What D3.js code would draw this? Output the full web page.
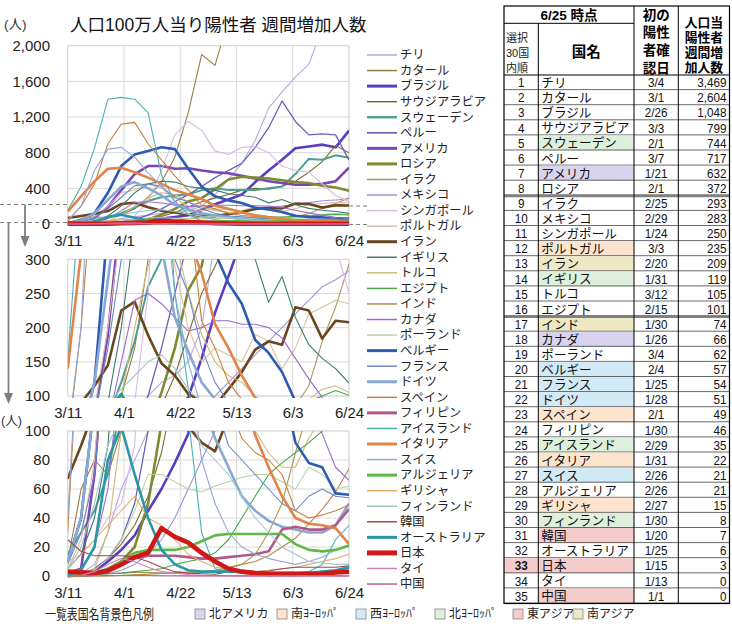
<!DOCTYPE html>
<html><head><meta charset="utf-8">
<script src="https://cdn.jsdelivr.net/npm/d3@7"></script>
<style>
body{margin:0;background:#fff;}
text{font-family:"Liberation Sans","Noto Sans CJK JP",sans-serif;}
</style></head><body><svg id="c" width="732" height="631"></svg>
<script>
// ---------- DATA ----------
const dates = ["3/11","3/16","3/21","3/26","3/31","4/5","4/10","4/15","4/20","4/25","4/30","5/5","5/10","5/15","5/20","5/25","5/30","6/4","6/9","6/14","6/19","6/24"];
const xTickLabels = ["3/11","4/1","4/22","5/13","6/3","6/24"];
const topTicks = [0,400,800,1200,1600,2000];
const midTicks = [100,150,200,250,300];
const lowTicks = [0,20,40,60,80,100];

const names = ["チリ","カタール","ブラジル","サウジアラビア","スウェーデン","ペルー","アメリカ","ロシア","イラク","メキシコ","シンガポール","ポルトガル","イラン","イギリス","トルコ","エジプト","インド","カナダ","ポーランド","ベルギー","フランス","ドイツ","スペイン","フィリピン","アイスランド","イタリア","スイス","アルジェリア","ギリシャ","フィンランド","韓国","オーストラリア","日本","タイ","中国"];

const chile      = [0,2,8,30,60,80,100,120,130,150,200,330,500,680,940,1300,1480,1650,1790,2200,2900,3469];
const qatar      = [10,60,80,70,100,170,300,470,750,1250,1900,1780,2300,2900,3400,3700,3600,3400,3200,3000,2800,2604];
const brazil     = [0,0.5,3,10,18,28,45,60,78,98,155,222,275,330,470,600,720,850,870,890,860,1048];
const saudi      = [0,1,5,12,22,35,55,85,130,190,250,290,330,380,400,390,420,480,580,700,880,799];
const sweden     = [15,30,45,70,120,180,260,300,320,330,380,400,380,380,380,400,420,560,730,720,770,744];
const peru       = [0,1,5,12,25,50,100,170,250,330,420,520,600,680,860,1080,1380,1150,1000,1010,1000,717];
const usa        = [2,5,70,190,380,560,650,650,620,625,600,580,570,540,510,480,460,440,440,450,480,632];
const russia     = [0,0.5,2,5,10,20,50,105,170,255,290,390,500,530,520,510,490,470,460,430,410,372];
const iraq       = [0,0.5,1,1.5,2,2.5,2.5,2,2,2,2.5,3,5,8,15,30,50,85,115,180,230,293];
const mexico     = [0,0,0.5,1.5,4,8,15,25,40,60,80,100,120,140,160,180,200,220,240,260,270,283];
const singapore  = [10,15,25,40,50,90,250,600,1000,1150,1050,820,780,860,870,800,650,600,580,450,320,250];
const portugal   = [5,25,80,200,350,380,450,400,290,200,150,170,160,150,190,180,140,170,220,230,240,235];
const iran       = [67,90,115,145,225,238,189,148,130,103,92,86,110,135,168,180,175,230,225,184,210,208];
const uk         = [5,15,40,90,200,350,450,480,470,420,400,380,340,320,300,237,275,215,175,155,140,119];
const turkey     = [0,0.5,5,30,100,200,290,350,330,250,190,150,130,120,100,85,75,75,95,110,115,105];
const egypt      = [0,0.3,1,1.5,2,3,4,5,8,10,12,16,25,40,55,70,78,85,92,100,108,101];
const india      = [0,0,0,0.1,0.3,0.8,1.3,1.8,2.3,2.8,3,4,6,8,10,14,20,26,36,46,58,74];
const canada     = [1,5,20,60,150,240,250,235,215,195,200,210,210,205,205,200,185,155,125,98,75,66];
const poland     = [0,1,4,12,25,45,70,70,65,60,58,62,65,68,70,70,65,60,75,70,60,62];
const belgium    = [10,40,120,350,650,780,820,860,840,620,420,310,265,235,182,163,135,92,78,75,57,56];
const france     = [8,30,70,170,300,430,450,420,300,250,170,120,90,80,70,60,50,45,55,60,55,54];
const germany    = [10,40,120,270,420,470,400,320,215,165,120,95,75,55,45,38,34,32,30,30,35,50];
const spain      = [30,200,450,900,1120,1140,900,720,540,380,210,170,120,95,85,80,70,45,40,42,45,49];
const philippines= [0,0.2,1,3,8,12,14,14,14,13,12,12,13,14,15,17,32,34,32,32,35,46];
const iceland    = [150,420,850,1400,1420,1400,1250,550,250,110,30,5,3,2,1,0,1,2,3,8,25,35];
const italy      = [140,310,480,620,630,580,520,450,380,330,280,205,170,130,97,75,55,40,36,35,33,22];
const switzerland= [40,200,600,840,860,750,570,430,250,150,80,50,30,20,15,12,10,8,10,13,18,21];
const algeria    = [0,0.3,1,3,10,16,18,18,18,20,24,28,29,29,29,29,29,22,18,17,18,21];
const greece     = [5,15,25,35,45,55,40,35,25,15,10,6,5,4,3,4,5,6,8,10,12,15];
const finland    = [5,20,50,90,110,130,150,160,140,110,90,80,70,55,40,30,20,15,10,9,8,8];
const korea      = [25,17,14,14,14,13,10,6,3,2,1.5,1.2,3,4,3,3.5,5,6,6,6,6,7];
const australia  = [1,4,20,80,103,70,40,18,8,4,3,3,3,3,2,2,2,2,2,3,4,6];
const japan      = [3,2.5,2,3.5,8,13,16,33,27,23,16,10,5,3,2,1.5,1.5,1.5,1.5,1.5,2.5,3];
const thailand   = [0.1,0.5,3,8,12,10,6,3,2,1,0.5,0.3,0.2,0.1,0.1,0.2,0.2,0.1,0.1,0.1,0.1,0];
const china      = [0.1,0.1,0.2,0.3,0.3,0.4,0.3,0.2,0.2,0.1,0.1,0.1,0.1,0.1,0.1,0.1,0.1,0.1,0.2,0.2,0.1,0];

const seriesValues = [chile,qatar,brazil,saudi,sweden,peru,usa,russia,iraq,mexico,singapore,portugal,iran,uk,turkey,egypt,india,canada,poland,belgium,france,germany,spain,philippines,iceland,italy,switzerland,algeria,greece,finland,korea,australia,japan,thailand,china];

// table data
const tableRanks = [1,2,3,4,5,6,7,8,9,10,11,12,13,14,15,16,17,18,19,20,21,22,23,24,25,26,27,28,29,30,31,32,33,34,35];
const firstDates = ["3/4","3/1","2/26","3/3","2/1","3/7","1/21","2/1","2/25","2/29","1/24","3/3","2/20","1/31","3/12","2/15","1/30","1/26","3/4","2/4","1/25","1/28","2/1","1/30","2/29","1/31","2/26","2/26","2/27","1/30","1/20","1/25","1/15","1/13","1/1"];
const weeklyValues = [3469,2604,1048,799,744,717,632,372,293,283,250,235,209,119,105,101,74,66,62,57,54,51,49,46,35,22,21,21,15,8,7,6,3,0,0];
const regionLabels = ["北アメリカ","南ﾖｰﾛｯﾊﾟ","西ﾖｰﾛｯﾊﾟ","北ﾖｰﾛｯﾊﾟ","東アジア","南アジア"];
const regionOf = ["","","","","北ﾖｰﾛｯﾊﾟ","","北アメリカ","","","","","南ﾖｰﾛｯﾊﾟ","南アジア","北ﾖｰﾛｯﾊﾟ","","","南アジア","北アメリカ","","西ﾖｰﾛｯﾊﾟ","西ﾖｰﾛｯﾊﾟ","西ﾖｰﾛｯﾊﾟ","南ﾖｰﾛｯﾊﾟ","","北ﾖｰﾛｯﾊﾟ","南ﾖｰﾛｯﾊﾟ","西ﾖｰﾛｯﾊﾟ","","南ﾖｰﾛｯﾊﾟ","北ﾖｰﾛｯﾊﾟ","東アジア","","東アジア","","東アジア"];

// ---------- STYLES ----------
const seriesStyle = [
 ["#b2aadb",1.1],["#9c7a40",1.1],["#5a3cc0",2.6],["#7d6a2a",1.1],["#4aa090",2],["#6a60b8",1.3],
 ["#7b45b5",2.6],["#7f8a30",2.6],["#a89a50",1.1],["#a58fd8",1.1],["#d9b8e8",1.1],["#dcc0a0",1.1],
 ["#6b4520",2.6],["#3b7a6e",1.1],["#d0b878",1.1],["#48a848",1.1],["#b88a48",1.1],["#9c6ccc",1.1],
 ["#b8d8a0",1.1],["#2c5cb0",2.6],["#6888c8",1.1],["#88a8d4",2.6],["#c88040",1.1],["#b05888",2.6],
 ["#48b0b0",1.1],["#e0844a",2.6],["#90a8d8",1.1],["#60b848",2.6],["#e8a868",1.1],["#a0c8c8",1.1],
 ["#a04848",1.1],["#2898a8",2.6],["#d01818",4.6],["#d080c0",1.1],["#c86080",1.1]
];
const regionColors = {"北アメリカ":"#d9d4ee","南ﾖｰﾛｯﾊﾟ":"#fde4cf","西ﾖｰﾛｯﾊﾟ":"#d2e9f6","北ﾖｰﾛｯﾊﾟ":"#dcf0dc","東アジア":"#f4cccc","南アジア":"#efe8c4"};

// ---------- CHART ----------
const svg = d3.select("#c");
svg.append("rect").attr("width",732).attr("height",631).attr("fill","#fff");
const parse = d3.timeParse("%Y/%m/%d");
const toDate = s => parse("2020/" + s);
const xDates = dates.map(toDate);
const X0 = 67.7, X1 = 349;
const x = d3.scaleTime().domain([toDate("3/11"), toDate("6/24")]).range([X0, X1]);
const grey = "#7f7f7f";

const guides = svg.append("g").attr("stroke",grey).attr("stroke-width",1.2).attr("stroke-dasharray","4,3");
[[0,204.5,67,204.5],[0,222.5,67,222.5],[349,206,367,206],[349,224.5,367,224.5]].forEach(l=>{
  guides.append("line").attr("x1",l[0]).attr("y1",l[1]).attr("x2",l[2]).attr("y2",l[3]);
});
function arrow(xp, y1, y2){
  svg.append("line").attr("x1",xp).attr("x2",xp).attr("y1",y1).attr("y2",y2-10).attr("stroke",grey).attr("stroke-width",1.8);
  svg.append("path").attr("d",`M${xp-4.5},${y2-11}L${xp+4.5},${y2-11}L${xp},${y2}Z`).attr("fill",grey);
}
arrow(25,205,247);
arrow(8.5,223,404);

const panels = [
  {top:45.7, bottom:224, domain:[0,2000], ticks:topTicks, fmt:d3.format(",")},
  {top:259.3, bottom:396, domain:[100,300], ticks:midTicks, fmt:d3.format("d")},
  {top:431, bottom:576, domain:[0,100], ticks:lowTicks, fmt:d3.format("d")}
];
const defs = svg.append("defs");
panels.forEach((p,pi)=>{
  const y = d3.scaleLinear().domain(p.domain).range([p.bottom,p.top]);
  const g = svg.append("g");
  g.append("rect").attr("x",X0).attr("y",p.top).attr("width",X1-X0).attr("height",p.bottom-p.top).attr("fill","#fff").attr("stroke","#d9d9d9");
  g.selectAll(".hg").data(p.ticks).join("line").attr("x1",X0).attr("x2",X1).attr("y1",d=>y(d)).attr("y2",d=>y(d)).attr("stroke","#d9d9d9");
  g.selectAll(".vg").data(xTickLabels).join("line").attr("x1",d=>x(toDate(d))).attr("x2",d=>x(toDate(d))).attr("y1",p.top).attr("y2",p.bottom).attr("stroke","#d9d9d9");
  defs.append("clipPath").attr("id","clip"+pi).append("rect").attr("x",X0).attr("y",p.top).attr("width",X1-X0).attr("height",p.bottom-p.top+2);
  const line = d3.line().x((d,i)=>x(xDates[i])).y(d=>y(d));
  const lg = g.append("g").attr("clip-path",`url(#clip${pi})`);
  seriesValues.forEach((vals,si)=>{
    lg.append("path").attr("d",line(vals)).attr("fill","none")
      .attr("stroke",seriesStyle[si][0]).attr("stroke-width",seriesStyle[si][1]).attr("stroke-linejoin","round");
  });
  const ya = g.append("g").attr("transform",`translate(${X0},0)`)
    .call(d3.axisLeft(y).tickValues(p.ticks).tickSize(0).tickPadding(17.7).tickFormat(p.fmt));
  ya.select(".domain").remove();
  ya.selectAll("text").attr("font-family","Liberation Sans, Arial, sans-serif").attr("font-size",15).attr("fill","#222");
  const xa = g.append("g").attr("transform",`translate(0,${p.bottom})`)
    .call(d3.axisBottom(x).tickValues(xTickLabels.map(toDate)).tickSize(0).tickPadding(11.5).tickFormat(d3.timeFormat("%-m/%-d")));
  xa.select(".domain").remove();
  xa.selectAll("text").attr("font-family","Liberation Sans, Arial, sans-serif").attr("font-size",15).attr("fill","#222");
});

// title
svg.append("text").attr("x",4).attr("y",29).attr("font-size",13.5).attr("fill","#333").text("(人)");
svg.append("text").attr("x",70).attr("y",31).attr("font-size",17.5).attr("fill","#111").text("人口100万人当り陽性者 週間増加人数");
svg.append("text").attr("x",1).attr("y",425).attr("font-size",12.5).attr("fill","#333").text("(人)");

// legend
const leg = svg.append("g");
names.forEach((n,i)=>{
  const yy = 55 + 15.56*i;
  leg.append("line").attr("x1",367).attr("x2",397).attr("y1",yy).attr("y2",yy)
     .attr("stroke",seriesStyle[i][0]).attr("stroke-width",Math.min(seriesStyle[i][1]+0.4,5));
  leg.append("text").attr("x",400).attr("y",yy).attr("dy","0.35em").attr("font-size",12.3).attr("fill","#222").text(n);
});

// ---------- TABLE ----------
const T = {l:504, c1:538.3, c2:634, c3:678.3, r:729.5, top:6, hdr:75, rh:15.1};
const tb = svg.append("g");
function numText(xp, yp, anchor, txt, size, bold){
  tb.append("text").attr("transform",`translate(${xp},${yp}) scale(0.9,1)`).attr("dy","0.36em")
    .attr("text-anchor",anchor).attr("font-size",size)
    .attr("font-weight",bold?"bold":"normal").attr("fill","#111").text(txt);
}
tableRanks.forEach((rk,i)=>{
  const y0 = T.hdr + T.rh*i, cy = y0 + T.rh/2;
  const reg = regionOf[i];
  if(reg) tb.append("rect").attr("x",T.c1).attr("y",y0).attr("width",T.c2-T.c1).attr("height",T.rh).attr("fill",regionColors[reg]);
  if(rk===33) tb.append("rect").attr("x",T.l).attr("y",y0).attr("width",T.c1-T.l).attr("height",T.rh).attr("fill",regionColors["東アジア"]);
  tb.append("line").attr("x1",T.l).attr("x2",T.r).attr("y1",y0+T.rh-0.5).attr("y2",y0+T.rh-0.5).attr("stroke","#444").attr("stroke-width",0.8);
  numText((T.l+T.c1)/2, cy, "middle", rk, 13, rk===33);
  tb.append("text").attr("x",T.c1+3).attr("y",cy).attr("dy","0.36em").attr("font-size",12.6).attr("fill","#111").text(names[i]);
  numText((T.c2+T.c3)/2, cy, "middle", firstDates[i], 13, false);
  numText(T.r-3, cy, "end", d3.format(",")(weeklyValues[i]), 13, false);
});
const tBottom = T.hdr + T.rh*35;
[8,16].forEach(k=>{
  tb.append("line").attr("x1",T.l).attr("x2",T.r).attr("y1",T.hdr+T.rh*k).attr("y2",T.hdr+T.rh*k).attr("stroke","#808080").attr("stroke-width",3);
});
tb.append("rect").attr("x",T.l).attr("y",T.top).attr("width",T.r-T.l).attr("height",tBottom-T.top).attr("fill","none").attr("stroke","#000").attr("stroke-width",1.2);
tb.append("line").attr("x1",T.c1).attr("x2",T.c1).attr("y1",23.3).attr("y2",tBottom).attr("stroke","#000");
tb.append("line").attr("x1",T.c2).attr("x2",T.c2).attr("y1",T.top).attr("y2",tBottom).attr("stroke","#000");
tb.append("line").attr("x1",T.c3).attr("x2",T.c3).attr("y1",T.top).attr("y2",tBottom).attr("stroke","#000");
tb.append("line").attr("x1",T.l).attr("x2",T.c2).attr("y1",23.3).attr("y2",23.3).attr("stroke","#000");
tb.append("line").attr("x1",T.l).attr("x2",T.r).attr("y1",T.hdr).attr("y2",T.hdr).attr("stroke","#000").attr("stroke-width",1.2);
// header texts
tb.append("text").attr("x",(T.l+T.c2)/2).attr("y",15).attr("dy","0.36em").attr("text-anchor","middle").attr("font-size",13.5).attr("font-weight","bold").text("6/25 時点");
["選択","30国","内順"].forEach((t,k)=>tb.append("text").attr("x",T.l+2).attr("y",38+k*15).attr("dy","0.36em").attr("font-size",11).attr("fill","#222").text(t));
tb.append("text").attr("x",(T.c1+T.c2)/2).attr("y",52).attr("dy","0.36em").attr("text-anchor","middle").attr("font-size",14.5).attr("font-weight","bold").text("国名");
["初の","陽性","者確","認日"].forEach((t,k)=>tb.append("text").attr("x",(T.c2+T.c3)/2).attr("y",15+k*17.6).attr("dy","0.36em").attr("text-anchor","middle").attr("font-size",13.5).attr("font-weight","bold").text(t));
["人口当","陽性者","週間増","加人数"].forEach((t,k)=>tb.append("text").attr("x",(T.c3+T.r)/2).attr("y",22+k*15).attr("dy","0.36em").attr("text-anchor","middle").attr("font-size",12.8).attr("font-weight","bold").text(t));

// ---------- REGION LEGEND ----------
const rl = svg.append("g");
rl.append("text").attr("x",45).attr("y",614).attr("dy","0.36em").attr("font-size",13.5).attr("fill","#222")
  .attr("textLength",109).attr("lengthAdjust","spacingAndGlyphs").text("一覧表国名背景色凡例");
const sqX = [195,277,356,435,513,573];
regionLabels.forEach((r,k)=>{
  rl.append("rect").attr("x",sqX[k]).attr("y",609).attr("width",10).attr("height",10).attr("fill",regionColors[r]).attr("stroke","#888").attr("stroke-width",0.8);
  rl.append("text").attr("x",sqX[k]+14).attr("y",614).attr("dy","0.36em").attr("font-size",12).attr("fill","#222").text(r);
});
</script></body></html>
